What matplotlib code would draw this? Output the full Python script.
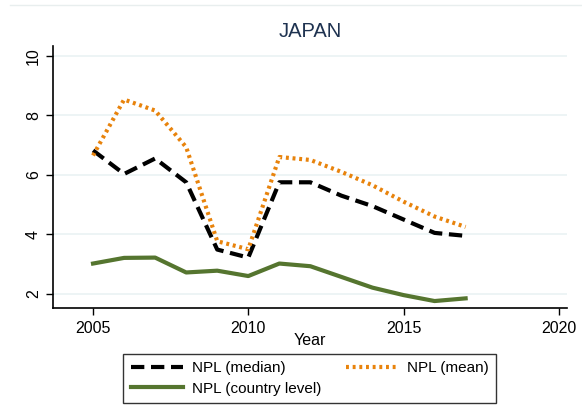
import matplotlib.pyplot as plt
from matplotlib.lines import Line2D

plt.rcParams["font.family"] = ["Liberation Sans", "DejaVu Sans"]

years = [2005, 2006, 2007, 2008, 2009, 2010, 2011, 2012, 2013, 2014, 2015, 2016, 2017]
npl_median = [6.82, 6.03, 6.55, 5.75, 3.49, 3.22, 5.75, 5.75, 5.3, 4.95, 4.5, 4.05, 3.95]
npl_mean = [6.65, 8.53, 8.16, 6.93, 3.77, 3.5, 6.6, 6.5, 6.1, 5.65, 5.1, 4.6, 4.25]
npl_country = [3.02, 3.21, 3.22, 2.72, 2.78, 2.6, 3.02, 2.93, 2.57, 2.21, 1.96, 1.76, 1.85]

x_ticks = [2005, 2010, 2015, 2020]
y_ticks = [2, 4, 6, 8, 10]

fig = plt.figure(figsize=(5.82, 4.18), dpi=100)
ax = fig.add_axes([0.0905, 0.262, 0.884, 0.628])

for y in y_ticks:
    ax.axhline(y, color="#eaf2f3", linewidth=1.2, zorder=0)

l1, = ax.plot(years, npl_median, color="black", linestyle=(0, (3.2, 1.6)),
              linewidth=3, label="NPL (median)")
l2, = ax.plot(years, npl_mean, color="#e8830c", linestyle=(0, (0.7, 0.9)),
              linewidth=3, label="NPL (mean)")
l3, = ax.plot(years, npl_country, color="#55752f", linewidth=3,
              label="NPL (country level)")

ax.set_xlim(2003.7, 2020.27)
ax.set_ylim(1.51, 10.33)
ax.set_xticks(x_ticks)
ax.set_yticks(y_ticks)
ax.set_yticklabels([str(v) for v in y_ticks], rotation=90, va="center")
ax.tick_params(axis="both", direction="out", length=5, width=1, labelsize=11.5,
               colors="black")
ax.tick_params(axis="x", pad=4)
ax.spines["top"].set_visible(False)
ax.spines["right"].set_visible(False)
ax.spines["left"].set_linewidth(1.2)
ax.spines["bottom"].set_linewidth(1.2)

ax.set_xlabel("Year", fontsize=11.5, labelpad=1)
ax.xaxis.set_label_coords(0.5, -0.095)
fig.text(0.533, 0.925, "JAPAN", ha="center", va="center", fontsize=14.5,
         color="#1e3250")

# faint outer border line at the top
fig.add_artist(Line2D([0.017, 1.0], [0.988, 0.988], color="#e8eeee",
                      linewidth=1, transform=fig.transFigure))

leg = fig.legend(handles=[l1, l3, l2], ncol=2, loc="center",
                 bbox_to_anchor=(0.532, 0.0945), frameon=True, fancybox=False,
                 edgecolor="black", fontsize=11, handlelength=3.4,
                 columnspacing=1.6, labelspacing=0.4, borderpad=0.5,
                 handletextpad=0.6)
leg.get_frame().set_linewidth(1)

fig.savefig("out.png", dpi=100, facecolor="white")
